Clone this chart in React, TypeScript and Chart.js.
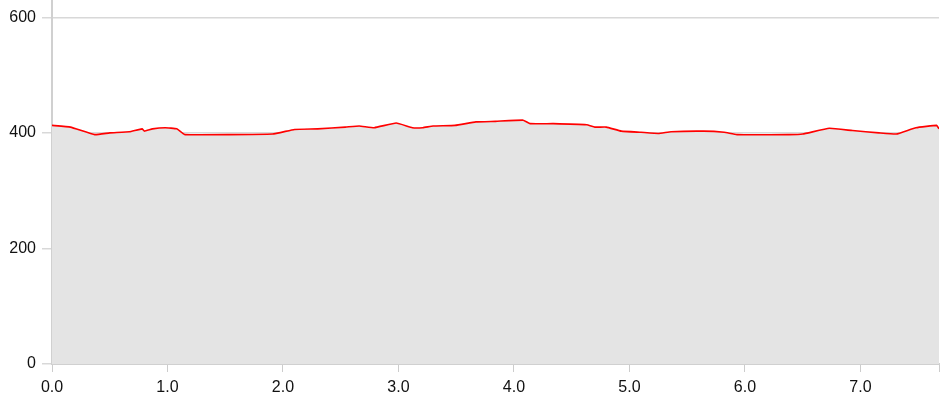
import React, { useEffect, useRef } from "react";
import { Chart, registerables } from "chart.js";

Chart.register(...registerables);

const distances = [0, 0.16, 0.37, 0.5, 0.67, 0.78, 0.8, 0.87, 0.98, 1.08, 1.15, 1.91, 2.1, 2.3, 2.54, 2.66, 2.79, 2.98, 3.12, 3.21, 3.3, 3.49, 3.67, 3.84, 4.08, 4.14, 4.34, 4.63, 4.7, 4.8, 4.93, 5.1, 5.25, 5.36, 5.64, 5.82, 5.93, 6.38, 6.5, 6.73, 6.93, 7.16, 7.31, 7.48, 7.66, 7.68];
const elevations = [413, 410, 397, 400, 402, 407, 403, 407, 409, 407, 397, 398, 406, 407, 410, 412, 409, 417, 409, 409, 412, 413, 419, 420, 422, 416, 416, 414, 410, 410, 403, 401, 399, 402, 403, 401, 397, 397, 398, 408, 404, 400, 398, 409, 413, 407];
const xTicks = [0, 1, 2, 3, 4, 5, 6, 7, 7.68];
const yTicks = [0, 200, 400, 600];
const X_MAX = 7.68;
const Y_MAX = 630;

export default function App() {
  const ref = useRef<HTMLCanvasElement | null>(null);
  useEffect(() => {
    document.body.style.margin = "0";
    const ctx = ref.current!;
    const font = { family: "'Liberation Sans', Arial, sans-serif", size: 16 };
    const chart = new Chart(ctx, {
      type: "line",
      data: {
        datasets: [
          {
            data: distances.map((d, i) => ({ x: d, y: elevations[i] })),
            borderColor: "#ff0000",
            borderWidth: 1.6,
            backgroundColor: "#e4e4e4",
            fill: "origin",
            pointRadius: 0,
            tension: 0.1,
          },
        ],
      },
      options: {
        animation: false,
        responsive: false,
        maintainAspectRatio: false,
        layout: { padding: { top: 0, right: 5, left: 0, bottom: 0 } },
        plugins: { legend: { display: false }, tooltip: { enabled: false } },
        scales: {
          x: {
            type: "linear",
            min: 0,
            max: X_MAX,
            afterBuildTicks: (s: any) => {
              s.ticks = xTicks.map((v) => ({ value: v }));
            },
            afterFit: (s: any) => {
              s.height = 33;
            },
            grid: { drawOnChartArea: false, drawTicks: true, tickLength: 8, color: "#cccccc", lineWidth: 1 },
            border: { color: "#d0d0d0", width: 2 },
            ticks: {
              font,
              color: "#111",
              padding: 6,
              maxRotation: 0,
              autoSkip: false,
              callback: (v: any) => (Number.isInteger(Number(v)) ? Number(v).toFixed(1) : ""),
            },
          },
          y: {
            type: "linear",
            min: 0,
            max: Y_MAX,
            afterBuildTicks: (s: any) => {
              s.ticks = yTicks.map((v) => ({ value: v }));
            },
            afterFit: (s: any) => {
              s.width = 52;
              s.paddingTop = 0;
              s.paddingBottom = 0;
            },
            grid: { color: "#d8d8d8", lineWidth: 1.5, drawTicks: true, tickLength: 10 },
            border: { color: "#d0d0d0", width: 2 },
            ticks: { font, color: "#111", padding: 6, callback: (v: any) => String(v) },
          },
        },
      },
    });
    return () => chart.destroy();
  }, []);
  return (
    <div style={{ width: 945, height: 397 }}>
      <canvas ref={ref} width={945} height={397} style={{ display: "block" }} />
    </div>
  );
}
